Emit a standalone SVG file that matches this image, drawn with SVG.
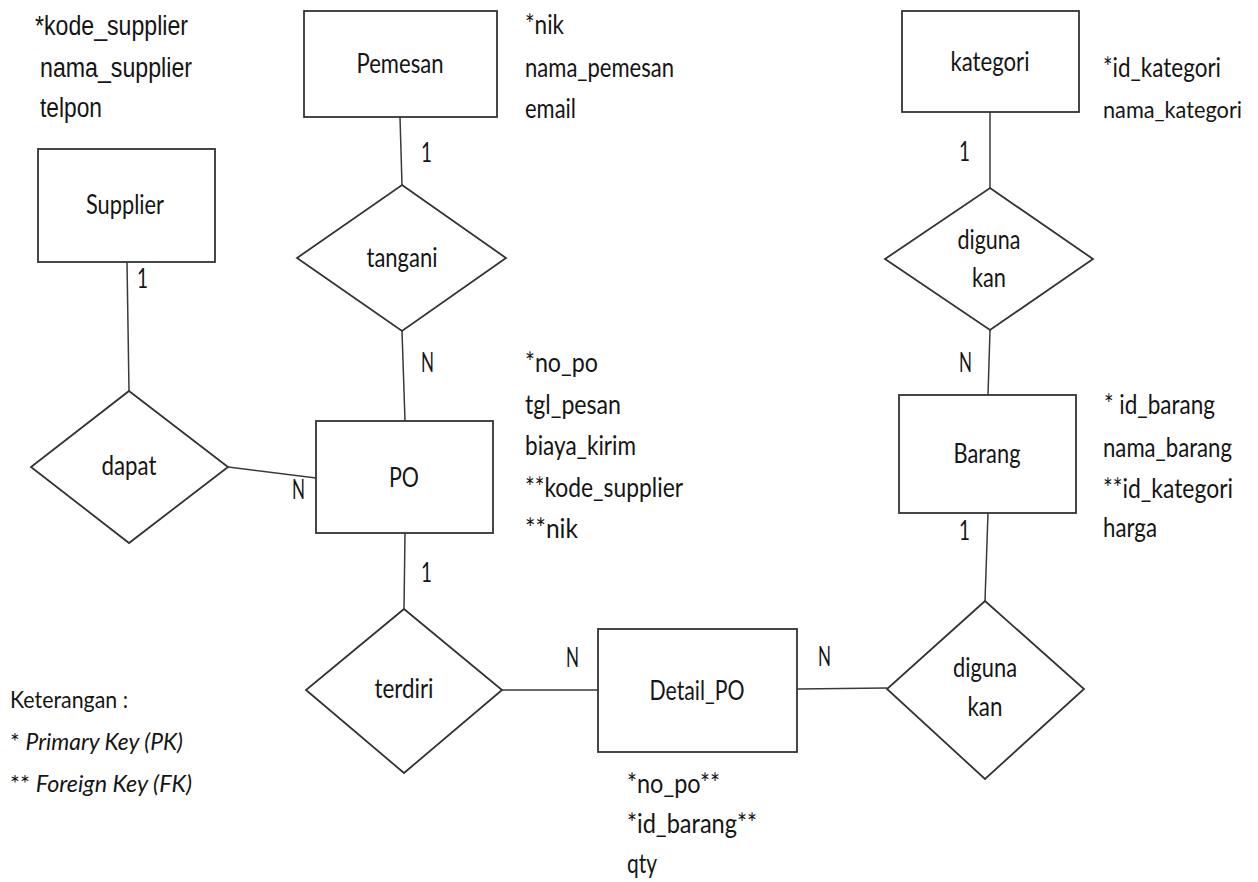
<svg xmlns="http://www.w3.org/2000/svg" width="1258" height="882" viewBox="0 0 1258 882">
<style>
  .shape { fill: #ffffff; stroke: #333333; stroke-width: 1.8; }
  .conn line { stroke: #3a3a3a; stroke-width: 1.5; }
  text { font-family: Lato, "Open Sans", sans-serif; font-size: 26px; fill: #151515; }
  .c { text-anchor: middle; }
  .arial { font-family: "Liberation Sans", Arial, sans-serif; font-size: 27px; }
  .it { font-style: italic; }
  .legend { font-size: 24px; }
  .edge { font-size: 24px; }
</style>
<rect width="1258" height="882" fill="#ffffff"/>

<g id="connectors" class="conn">
  <line x1="400" y1="117" x2="402" y2="185"/>
  <line x1="402" y1="331" x2="405" y2="421"/>
  <line x1="127" y1="262" x2="129" y2="391"/>
  <line x1="228" y1="467" x2="316" y2="478"/>
  <line x1="405" y1="533" x2="404" y2="609"/>
  <line x1="502" y1="690" x2="598" y2="690"/>
  <line x1="797" y1="689" x2="887" y2="688"/>
  <line x1="988" y1="513" x2="985" y2="601"/>
  <line x1="990" y1="112" x2="990" y2="188"/>
  <line x1="990" y1="330" x2="988" y2="395"/>
</g>

<g id="cardinalities">
  <text x="421" y="162" textLength="11" lengthAdjust="spacingAndGlyphs">1</text>
  <text x="421" y="372" textLength="13" lengthAdjust="spacingAndGlyphs">N</text>
  <text x="137" y="288" textLength="11" lengthAdjust="spacingAndGlyphs">1</text>
  <text x="292" y="499" textLength="13" lengthAdjust="spacingAndGlyphs">N</text>
  <text x="421" y="582" textLength="11" lengthAdjust="spacingAndGlyphs">1</text>
  <text x="566" y="667" textLength="13" lengthAdjust="spacingAndGlyphs">N</text>
  <text x="818" y="666" textLength="13" lengthAdjust="spacingAndGlyphs">N</text>
  <text x="959" y="540" textLength="11" lengthAdjust="spacingAndGlyphs">1</text>
  <text x="959" y="372" textLength="13" lengthAdjust="spacingAndGlyphs">N</text>
  <text x="959" y="161" textLength="11" lengthAdjust="spacingAndGlyphs">1</text>
</g>

<g id="supplier">
  <rect class="shape" x="38" y="149" width="177" height="113"/>
  <text class="c" x="125" y="214" textLength="78" lengthAdjust="spacingAndGlyphs">Supplier</text>
  <text class="arial" x="35" y="35" textLength="153" lengthAdjust="spacingAndGlyphs">*kode_supplier</text>
  <text class="arial" x="40" y="77" textLength="152" lengthAdjust="spacingAndGlyphs">nama_supplier</text>
  <text class="arial" x="40" y="117" textLength="62" lengthAdjust="spacingAndGlyphs">telpon</text>
</g>

<g id="pemesan">
  <rect class="shape" x="304" y="11" width="193" height="106"/>
  <text class="c" x="400" y="73" textLength="87" lengthAdjust="spacingAndGlyphs">Pemesan</text>
  <text x="525" y="34" textLength="39" lengthAdjust="spacingAndGlyphs">*nik</text>
  <text x="525" y="77" textLength="149" lengthAdjust="spacingAndGlyphs">nama_pemesan</text>
  <text x="525" y="118" textLength="51" lengthAdjust="spacingAndGlyphs">email</text>
</g>

<g id="tangani">
  <polygon class="shape" points="402,185 506,258 402,331 297,258"/>
  <text class="c" x="402" y="267" textLength="71" lengthAdjust="spacingAndGlyphs">tangani</text>
</g>

<g id="kategori">
  <rect class="shape" x="902" y="11" width="177" height="101"/>
  <text class="c" x="990" y="71" textLength="79" lengthAdjust="spacingAndGlyphs">kategori</text>
  <text x="1103" y="77" textLength="118" lengthAdjust="spacingAndGlyphs">*id_kategori</text>
  <text class="edge" x="1103" y="118" textLength="139" lengthAdjust="spacingAndGlyphs">nama_kategori</text>
</g>

<g id="digunakan1">
  <polygon class="shape" points="990,188 1093,259 990,330 885,259"/>
  <text class="c" x="989" y="249" textLength="63" lengthAdjust="spacingAndGlyphs">diguna</text>
  <text class="c" x="989" y="287" textLength="34" lengthAdjust="spacingAndGlyphs">kan</text>
</g>

<g id="dapat">
  <polygon class="shape" points="129,391 228,467 129,543 31,467"/>
  <text class="c" x="129" y="475" textLength="55" lengthAdjust="spacingAndGlyphs">dapat</text>
</g>

<g id="po">
  <rect class="shape" x="316" y="421" width="177" height="112"/>
  <text class="c" x="404" y="487" textLength="30" lengthAdjust="spacingAndGlyphs">PO</text>
  <text x="525" y="372" textLength="73" lengthAdjust="spacingAndGlyphs">*no_po</text>
  <text x="525" y="414" textLength="96" lengthAdjust="spacingAndGlyphs">tgl_pesan</text>
  <text x="525" y="455" textLength="111" lengthAdjust="spacingAndGlyphs">biaya_kirim</text>
  <text x="525" y="497" textLength="158" lengthAdjust="spacingAndGlyphs">**kode_supplier</text>
  <text x="525" y="538" textLength="53" lengthAdjust="spacingAndGlyphs">**nik</text>
</g>

<g id="barang">
  <rect class="shape" x="899" y="395" width="177" height="118"/>
  <text class="c" x="987" y="463" textLength="67" lengthAdjust="spacingAndGlyphs">Barang</text>
  <text x="1104" y="414" textLength="111" lengthAdjust="spacingAndGlyphs">* id_barang</text>
  <text x="1103" y="457" textLength="129" lengthAdjust="spacingAndGlyphs">nama_barang</text>
  <text x="1103" y="498" textLength="130" lengthAdjust="spacingAndGlyphs">**id_kategori</text>
  <text x="1103" y="537" textLength="54" lengthAdjust="spacingAndGlyphs">harga</text>
</g>

<g id="terdiri">
  <polygon class="shape" points="404,609 502,690 404,773 306,690"/>
  <text class="c" x="404" y="698" textLength="59" lengthAdjust="spacingAndGlyphs">terdiri</text>
</g>

<g id="detail_po">
  <rect class="shape" x="598" y="629" width="199" height="123"/>
  <text class="c" x="697" y="700" textLength="95" lengthAdjust="spacingAndGlyphs">Detail_PO</text>
  <text x="627" y="793" textLength="93" lengthAdjust="spacingAndGlyphs">*no_po**</text>
  <text x="627" y="833" textLength="130" lengthAdjust="spacingAndGlyphs">*id_barang**</text>
  <text x="627" y="873" textLength="30" lengthAdjust="spacingAndGlyphs">qty</text>
</g>

<g id="digunakan2">
  <polygon class="shape" points="985,601 1084,689 985,779 887,689"/>
  <text class="c" x="985" y="677" textLength="64" lengthAdjust="spacingAndGlyphs">diguna</text>
  <text class="c" x="985" y="716" textLength="35" lengthAdjust="spacingAndGlyphs">kan</text>
</g>

<g id="keterangan" class="legend">
  <text class="legend" x="10" y="708" textLength="118" lengthAdjust="spacingAndGlyphs">Keterangan :</text>
  <text class="legend" x="10" y="750" textLength="173" lengthAdjust="spacingAndGlyphs">* <tspan class="it">Primary Key (PK)</tspan></text>
  <text class="legend" x="10" y="792" textLength="182" lengthAdjust="spacingAndGlyphs">** <tspan class="it">Foreign Key (FK)</tspan></text>
</g>
</svg>
